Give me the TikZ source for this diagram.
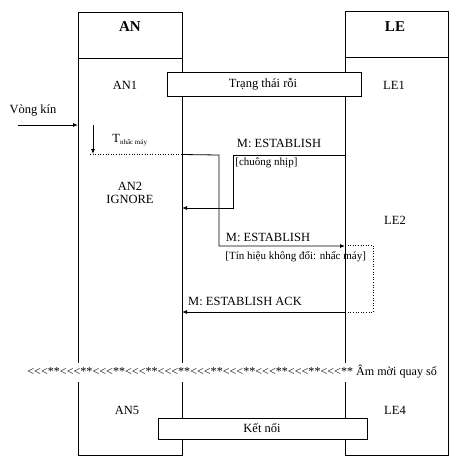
\documentclass[tikz,border=0pt]{standalone}
\usepackage{fontspec}
\setmainfont{Liberation Serif}
\usetikzlibrary{arrows.meta}
\newcommand\grp{<\kern0pt<\kern0pt<\kern0pt**\kern0pt}
\begin{document}
\begin{tikzpicture}[x=1pt,y=-1pt, line width=0.8pt,
  txt/.style={font=\fontsize{12.5}{14}\selectfont, inner sep=0pt},
  small/.style={font=\fontsize{11}{13}\selectfont, inner sep=0pt},
  hdr/.style={font=\fontsize{15}{17}\selectfont\bfseries, inner sep=0pt},
  colbox/.style={draw, anchor=north west, inner sep=0pt},
  bar/.style={draw, fill=white, anchor=north west, inner sep=0pt},
  arr/.style={-{Latex[length=5pt,width=4pt]}},
  dots/.style={dotted, line width=0.6pt}]
\useasboundingbox (0,0) rectangle (461,459);
% columns
\node[colbox, minimum width=104pt, minimum height=443pt] (ANcol) at (78,12) {};
\node[colbox, minimum width=104pt, minimum height=46pt] (ANhead) at (78,12) {};
\node[colbox, minimum width=103pt, minimum height=444pt] (LEcol) at (345,11) {};
\node[colbox, minimum width=103pt, minimum height=46pt] (LEhead) at (345,11) {};
\node[hdr] (AN) at (130,27) {AN};
\node[hdr] (LE) at (395,27) {LE};
% state labels
\node[txt] (AN1) at (125,85) {AN1};
\node[txt] (LE1) at (394,85) {LE1};
\node[bar, minimum width=194pt, minimum height=24pt] (idle) at (167,72) {};
\node[txt] (idletxt) at (263,84) {Trạng thái rỗi};
% loop
\node[txt] (vk) at (33,110) {Vòng kín};
\coordinate (vks) at (18,125);
\coordinate (vke) at (78,125);
\draw[arr] (vks) -- (vke);
% timer
\coordinate (ts) at (93,125);
\coordinate (te) at (93,154);
\draw[arr] (ts) -- (te);
\node[txt, anchor=west] (T) at (112,140) {T\raisebox{-2.5pt}{\fontsize{7}{8}\selectfont nhấc máy}};
\coordinate (d1) at (90,154.5);
\coordinate (d2) at (182,154.5);
\draw[dots] (d1) -- (d2);
\node[txt] (AN2) at (130,186) {AN2};
\node[txt] (IGN) at (130,199.5) {IGNORE};
\node[txt] (LE2) at (395,220) {LE2};
% message 1
\coordinate (m1s) at (345,155);
\coordinate (m1a) at (233,155);
\coordinate (m1b) at (233,208);
\coordinate (m1e) at (182,208);
\draw[arr] (m1s) -- (m1a) -- (m1b) -- (m1e);
\node[txt] (m1l) at (279,143) {M: ESTABLISH};
\node[small, anchor=west] (m1c) at (235,163) {[chuông nhịp]};
% message 2
\coordinate (m2a) at (219,155);
\coordinate (m2b) at (219,246);
\coordinate (m2e) at (345,246);
\draw[arr] (d2) -- (m2a) -- (m2b) -- (m2e);
\node[txt] (m2l) at (268,237) {M: ESTABLISH};
\node[small, anchor=west] (m2c) at (225,257) {[Tín hiệu không đổi: nhấc máy]};
% dotted box
\coordinate (b1) at (345,245);
\coordinate (b2) at (373,245);
\coordinate (b3) at (373,312);
\coordinate (b4) at (345,312);
\draw[dots] (b1) -- (b2) -- (b3) -- (b4);
% ack
\coordinate (ae) at (182,312);
\draw[arr] (b4) -- (ae);
\node[txt] (ackl) at (245,301) {M: ESTABLISH ACK};
% dial tone
\node[txt, font=\fontsize{12.1}{14}\selectfont, fill=white, minimum height=19pt, inner xsep=0pt, anchor=west] (tone) at (27,372)
  {\grp\grp\grp\grp\grp\grp\grp\grp\grp\grp{} Âm mời quay số};
% final
\node[txt] (AN5) at (127,410) {AN5};
\node[txt] (LE4) at (395,410) {LE4};
\node[bar, minimum width=209pt, minimum height=21pt] (conn) at (158,418) {};
\node[txt] (conntxt) at (262,428) {Kết nối};
\end{tikzpicture}
\end{document}
